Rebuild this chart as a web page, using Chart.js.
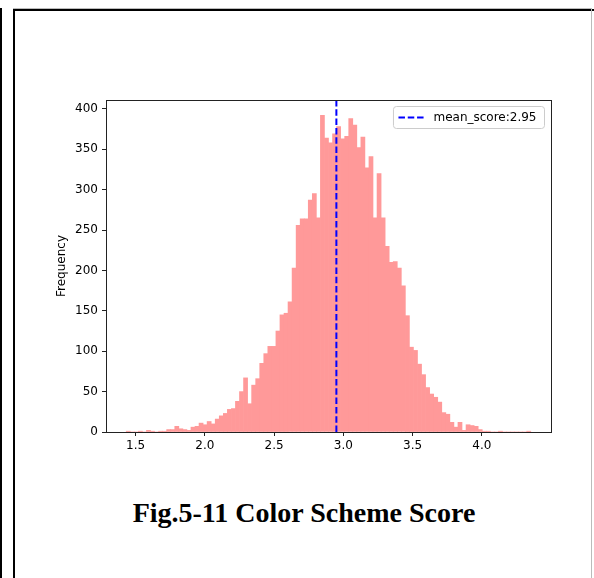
<!DOCTYPE html>
<html>
<head>
<meta charset="utf-8">
<script src="https://cdn.jsdelivr.net/npm/chart.js@4.4.1/dist/chart.umd.min.js"></script>
<style>
  html, body { margin: 0; padding: 0; background: #fff; }
  body { width: 594px; height: 578px; position: relative; overflow: hidden; }
  #barra-esq { position: absolute; left: 0; top: 8px; width: 2px; height: 570px; background: #000; }
  #sombra { position: absolute; left: 13px; top: 8px; width: 578px; height: 1px; background: #bbb; }
  #moldura { position: absolute; left: 13px; top: 9px; width: 700px; height: 700px; border-top: 2px solid #000; border-left: 2px solid #000; }
  #borda-dir { position: absolute; left: 591px; top: 8px; width: 1px; height: 570px; background: #bbb; }
  #grafico { position: absolute; left: 0; top: 0; }
  #titulo-fig { position: absolute; left: 0; top: 499px; width: 608px; text-align: center;
    font: bold 28px "Liberation Serif", "Times New Roman", serif; line-height: 28px; color: #000; }
</style>
</head>
<body>
<div id="barra-esq"></div>
<div id="sombra"></div>
<div id="moldura"></div>
<div id="borda-dir"></div>
<canvas id="grafico" width="594" height="470"></canvas>
<div id="titulo-fig">Fig.5-11 Color Scheme Score</div>
<script>
// histogram: 100 bins between the min and max score
const binStart = 1.4326;
const binWidth = 0.02921;
const counts = [
  1, 0, 0, 1, 0, 2, 1, 0, 1, 1,
  3, 3, 7, 4, 3, 2, 6, 7, 11, 9,
  13, 10, 16, 20, 23, 28, 29, 38, 50, 67,
  35, 58, 66, 85, 97, 106, 106, 125, 145, 147,
  161, 203, 256, 264, 264, 287, 295, 265, 392, 364,
  358, 369, 378, 363, 366, 388, 380, 352, 365, 327,
  341, 265, 320, 265, 230, 210, 211, 203, 181, 144,
  105, 101, 84, 71, 55, 47, 43, 37, 24, 22,
  12, 6, 12, 2, 9, 8, 7, 3, 1, 1,
  0, 0, 1, 0, 0, 0, 0, 0, 0, 1
];
const meanScore = 2.95;
const xTicks = [1.5, 2.0, 2.5, 3.0, 3.5, 4.0];
const yTicks = [0, 50, 100, 150, 200, 250, 300, 350, 400];
const xMin = 1.2866, xMax = 4.4996;
const yMax = 411;

Chart.defaults.font.family = "'DejaVu Sans', sans-serif";
Chart.defaults.font.size = 12;
Chart.defaults.color = "#000";

// top/right spines and the legend inside the axes
const molduraLegenda = {
  id: "molduraLegenda",
  afterDatasetsDraw(chart) {
    const { ctx, chartArea: a } = chart;
    ctx.save();
    ctx.strokeStyle = "#222";
    ctx.lineWidth = 1;
    ctx.beginPath();
    ctx.moveTo(a.left, a.top + 0.5);
    ctx.lineTo(a.right + 1, a.top + 0.5);
    ctx.moveTo(a.right + 0.5, a.top);
    ctx.lineTo(a.right + 0.5, a.bottom + 1);
    ctx.stroke();

    const ds = chart.data.datasets[1];
    ctx.font = "12px 'DejaVu Sans'";
    const tw = ctx.measureText(ds.label).width;
    const w = tw + 48, h = 22;
    const x0 = a.right - 6.5 - w, y0 = a.top + 6.5;
    ctx.beginPath();
    ctx.roundRect(x0, y0, w, h, 3);
    ctx.fillStyle = "rgba(255,255,255,0.8)";
    ctx.fill();
    ctx.strokeStyle = "#ccc";
    ctx.stroke();
    const cy = y0 + h / 2;
    ctx.beginPath();
    ctx.setLineDash(ds.borderDash);
    ctx.strokeStyle = ds.borderColor;
    ctx.lineWidth = ds.borderWidth;
    ctx.moveTo(x0 + 5, cy);
    ctx.lineTo(x0 + 31, cy);
    ctx.stroke();
    ctx.setLineDash([]);
    ctx.fillStyle = "#000";
    ctx.textBaseline = "middle";
    ctx.fillText(ds.label, x0 + 40, cy + 0.5);
    ctx.restore();
  }
};

new Chart(document.getElementById("grafico"), {
  type: "bar",
  data: {
    datasets: [{
      type: "bar",
      label: "score",
      data: counts.map((c, i) => ({ x: binStart + (i + 0.5) * binWidth, y: c })),
      backgroundColor: "#ff9999",
      borderWidth: 0,
      barPercentage: 1,
      categoryPercentage: 1,
      order: 1
    }, {
      type: "line",
      label: `mean_score:${meanScore}`,
      data: [{ x: meanScore, y: 0 }, { x: meanScore, y: yMax }],
      borderColor: "#0000ff",
      borderWidth: 2,
      borderDash: [6.5, 2.8],
      pointRadius: 0,
      fill: false,
      order: 0
    }]
  },
  options: {
    responsive: false,
    animation: false,
    devicePixelRatio: 1,
    layout: { padding: { top: 100, right: 43, bottom: 0, left: 0 } },
    plugins: { legend: { display: false }, tooltip: { enabled: false } },
    scales: {
      x: {
        type: "linear",
        min: xMin,
        max: xMax,
        offset: false,
        grid: { offset: false, drawOnChartArea: false, tickLength: 4, color: "#222" },
        border: { display: true, color: "#222", width: 1 },
        afterBuildTicks: s => { s.ticks = xTicks.map(v => ({ value: v })); },
        ticks: { padding: 3, maxRotation: 0, callback: v => v.toFixed(1) },
        afterFit: s => { s.height = 38; }
      },
      y: {
        min: 0,
        max: yMax,
        grid: { drawOnChartArea: false, tickLength: 4, color: "#222" },
        border: { display: true, color: "#222", width: 1 },
        afterBuildTicks: s => { s.ticks = yTicks.map(v => ({ value: v })); },
        ticks: { padding: 4 },
        title: { display: true, text: "Frequency", font: { size: 12 }, padding: { top: 55, bottom: 0 } },
        afterFit: s => { s.width = 106; }
      }
    }
  },
  plugins: [molduraLegenda]
});
</script>
</body>
</html>
